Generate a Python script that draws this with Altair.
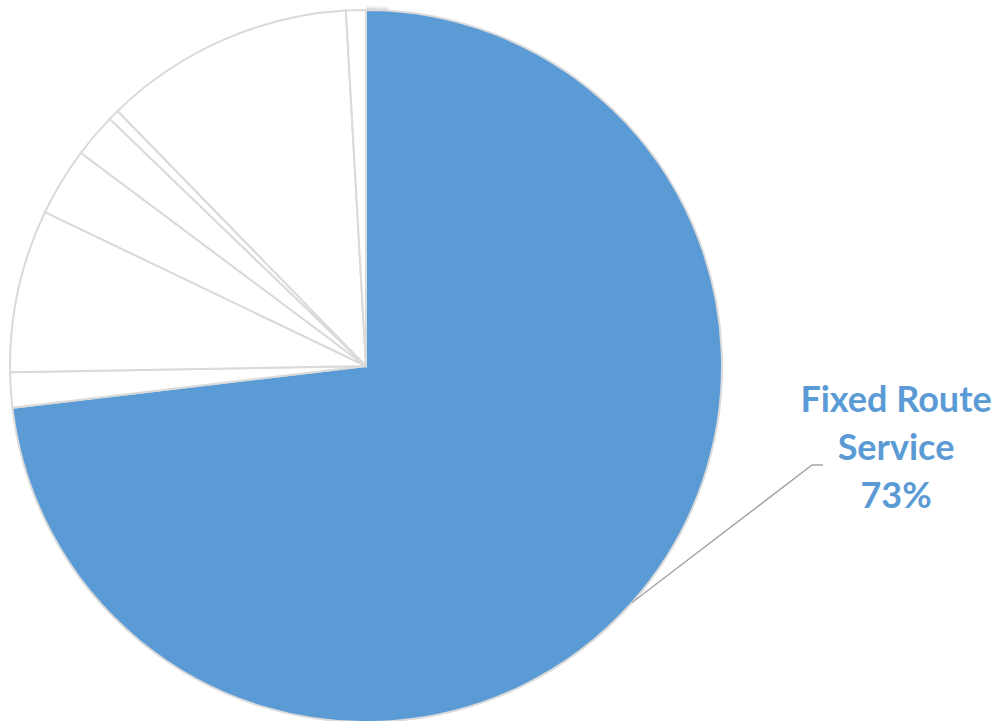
import math
import altair as alt
import pandas as pd

# ---- data ----
categories = ["Fixed Route Service", "Category 2", "Category 3", "Category 4",
              "Category 5", "Category 6", "Category 7", "Category 8"]
shares = [73.2, 1.6, 7.4, 3.1, 2.0, 0.5, 11.4, 0.9]
fill_colors = ["#5B9BD5"] + ["#FFFFFF"] * 7
label_lines = ["Fixed Route", "Service"]

# ---- layout ----
W, H = 998, 721
CX, CY, R = 366, 366, 356
ELBOW = (812, 465)
LEADER_END = (823, 465)
LABEL_X, LABEL_Y = 896, 401

df = pd.DataFrame({"category": categories, "share": shares, "order": list(range(len(shares)))})

total = sum(shares)
mid = (shares[0] / 2) / total * 2 * math.pi
ax = CX + R * math.sin(mid)
ay = CY - R * math.cos(mid)

leader = pd.DataFrame({"x": [ax, ELBOW[0], LEADER_END[0]],
                       "y": [ay, ELBOW[1], LEADER_END[1]],
                       "o": [0, 1, 2]})

pct = round(shares[0] / total * 100)
label_df = pd.DataFrame({"label": ["\n".join(label_lines + [f"{pct}%"])]})

xs = alt.Scale(domain=[0, W], range=[0, W])
ys = alt.Scale(domain=[0, H], range=[0, H])

shadow_outer = alt.Chart(pd.DataFrame({"v": [1]})).mark_arc(
    outerRadius=R + 4, color="#f0f0f0"
).encode(theta="v:Q", x=alt.value(CX), y=alt.value(CY))

shadow_inner = alt.Chart(pd.DataFrame({"v": [1]})).mark_arc(
    outerRadius=R + 2, color="#dadada"
).encode(theta="v:Q", x=alt.value(CX), y=alt.value(CY))

pie = alt.Chart(df).mark_arc(outerRadius=R, stroke="#dadada", strokeWidth=2).encode(
    theta=alt.Theta("share:Q", stack=True),
    color=alt.Color("category:N", scale=alt.Scale(domain=categories, range=fill_colors), legend=None),
    order=alt.Order("order:Q"),
    x=alt.value(CX),
    y=alt.value(CY),
)

line = alt.Chart(leader).mark_line(color="#a5a5a5", strokeWidth=1.5).encode(
    x=alt.X("x:Q", scale=xs, axis=None),
    y=alt.Y("y:Q", scale=ys, axis=None),
    order="o:Q",
)

text = alt.Chart(label_df).mark_text(
    font="Lato", fontSize=36, fontWeight="bold", color="#5B9BD5",
    lineBreak="\n", lineHeight=48, align="center", baseline="middle",
).encode(text="label:N", x=alt.value(LABEL_X), y=alt.value(LABEL_Y))

chart = alt.layer(shadow_outer, shadow_inner, pie, line, text).properties(
    width=W, height=H, autosize=alt.AutoSizeParams(type="none"), padding=0,
    background="white",
).configure_view(stroke=None)

chart.save("out.html", embed_options={"renderer": "svg", "actions": False})
